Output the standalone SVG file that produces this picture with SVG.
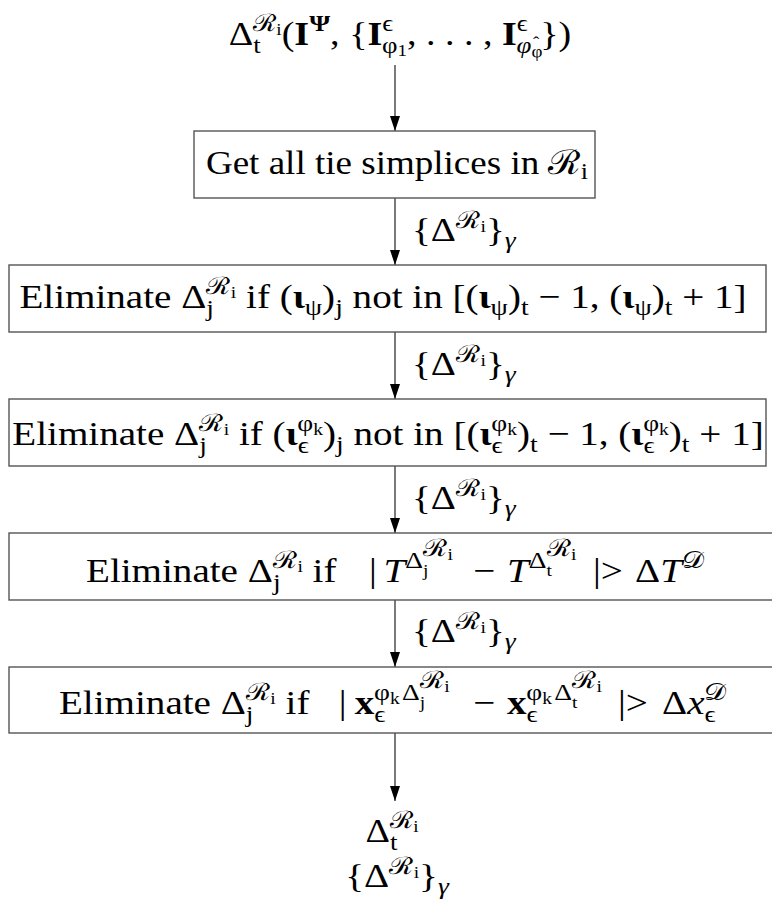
<svg xmlns="http://www.w3.org/2000/svg" width="772" height="904" viewBox="0 0 772 904">
<defs>
<marker id="ah" markerWidth="15" markerHeight="10" refX="15" refY="5" orient="auto" markerUnits="userSpaceOnUse" viewBox="0 0 15 10">
<path d="M0,0 L15,5 L0,10 Z" fill="#000"/>
</marker>
<style>
.t{font-family:"Liberation Serif","Times New Roman",serif;font-size:34px;fill:#000}
.s{font-size:24px}
.ss{font-size:17px}
.sss{font-size:13px}
.b{font-weight:bold}
.i{font-style:italic}
.box{fill:#fff;stroke:#555;stroke-width:1.4}
.c{stroke:#333;stroke-width:1.3;fill:none}
</style>
</defs>
<rect width="772" height="904" fill="#fff"/>
<g id="connectors">
<line class="c" x1="395" y1="65" x2="395" y2="131" marker-end="url(#ah)"/>
<line class="c" x1="395" y1="198" x2="395" y2="265" marker-end="url(#ah)"/>
<line class="c" x1="395" y1="332" x2="395" y2="399" marker-end="url(#ah)"/>
<line class="c" x1="395" y1="466" x2="395" y2="533" marker-end="url(#ah)"/>
<line class="c" x1="395" y1="600" x2="395" y2="667" marker-end="url(#ah)"/>
<line class="c" x1="395" y1="733" x2="395" y2="801" marker-end="url(#ah)"/>
<g transform="translate(412,0) scale(1.15,1)"><text class="t" x="0" y="241">{Δ<tspan class="s" dy="-13">ℛ</tspan><tspan class="ss" dy="4">i</tspan><tspan dy="9">}</tspan><tspan class="s i" dy="7">γ</tspan></text></g>
<g transform="translate(412,0) scale(1.15,1)"><text class="t" x="0" y="375">{Δ<tspan class="s" dy="-13">ℛ</tspan><tspan class="ss" dy="4">i</tspan><tspan dy="9">}</tspan><tspan class="s i" dy="7">γ</tspan></text></g>
<g transform="translate(412,0) scale(1.15,1)"><text class="t" x="0" y="509">{Δ<tspan class="s" dy="-13">ℛ</tspan><tspan class="ss" dy="4">i</tspan><tspan dy="9">}</tspan><tspan class="s i" dy="7">γ</tspan></text></g>
<g transform="translate(412,0) scale(1.15,1)"><text class="t" x="0" y="642">{Δ<tspan class="s" dy="-13">ℛ</tspan><tspan class="ss" dy="4">i</tspan><tspan dy="9">}</tspan><tspan class="s i" dy="7">γ</tspan></text></g>
</g>
<g id="input" transform="translate(400,0) scale(1.12,1)">
<text class="t" x="0" y="45" text-anchor="middle">Δ<tspan class="s" dy="8">t</tspan><tspan class="s" dx="-6.7" dy="-22">ℛ</tspan><tspan class="ss" dy="4">i</tspan><tspan dy="10">(</tspan><tspan class="b">I</tspan><tspan class="s b" dy="-14">Ψ</tspan><tspan dy="14">, {</tspan><tspan class="b">I</tspan><tspan class="s" dy="-14">ϵ</tspan><tspan class="s" dx="-10" dy="22">φ</tspan><tspan class="ss" dy="3">1</tspan><tspan dy="-11">, . . . , </tspan><tspan class="b">I</tspan><tspan class="s" dy="-14">ϵ</tspan><tspan class="s i" dx="-10" dy="22">φ</tspan><tspan class="ss" dy="4">φ</tspan><tspan class="ss" dx="-8.5" dy="-9">ˆ</tspan><tspan dx="1" dy="-3">})</tspan></text>
</g>
<g id="box1">
<rect class="box" x="194" y="131" width="401" height="67"/>
<g transform="translate(397,0) scale(1.09,1)"><text class="t" x="0" y="174" text-anchor="middle">Get all tie simplices in ℛ<tspan class="s" dy="5">i</tspan></text></g>
</g>
<g id="box2">
<rect class="box" x="9" y="265" width="757" height="67"/>
<g transform="translate(383,0) scale(1.15,1)"><text class="t" x="0" y="308" text-anchor="middle">Eliminate Δ<tspan class="s" dy="8">j</tspan><tspan class="s" dx="-6.7" dy="-22">ℛ</tspan><tspan class="ss" dy="4">i</tspan><tspan dy="10"> if (</tspan><tspan class="b">ι</tspan><tspan class="s" dy="7">ψ</tspan><tspan dy="-7">)</tspan><tspan class="s" dy="7">j</tspan><tspan dy="-7"> not in [(</tspan><tspan class="b">ι</tspan><tspan class="s" dy="7">ψ</tspan><tspan dy="-7">)</tspan><tspan class="s" dy="7">t</tspan><tspan dy="-7"> − 1, (</tspan><tspan class="b">ι</tspan><tspan class="s" dy="7">ψ</tspan><tspan dy="-7">)</tspan><tspan class="s" dy="7">t</tspan><tspan dy="-7"> + 1]</tspan></text></g>
</g>
<g id="box3">
<rect class="box" x="9" y="399" width="757" height="67"/>
<g transform="translate(388,0) scale(1.15,1)"><text class="t" x="0" y="445" text-anchor="middle">Eliminate Δ<tspan class="s" dy="8">j</tspan><tspan class="s" dx="-6.7" dy="-22">ℛ</tspan><tspan class="ss" dy="4">i</tspan><tspan dy="10"> if (</tspan><tspan class="b">ι</tspan><tspan class="s" dy="8">ϵ</tspan><tspan class="s" dx="-10" dy="-22">φ</tspan><tspan class="ss" dy="4">k</tspan><tspan dy="10">)</tspan><tspan class="s" dy="7">j</tspan><tspan dy="-7"> not in [(</tspan><tspan class="b">ι</tspan><tspan class="s" dy="8">ϵ</tspan><tspan class="s" dx="-10" dy="-22">φ</tspan><tspan class="ss" dy="4">k</tspan><tspan dy="10">)</tspan><tspan class="s" dy="7">t</tspan><tspan dy="-7"> − 1, (</tspan><tspan class="b">ι</tspan><tspan class="s" dy="8">ϵ</tspan><tspan class="s" dx="-10" dy="-22">φ</tspan><tspan class="ss" dy="4">k</tspan><tspan dy="10">)</tspan><tspan class="s" dy="7">t</tspan><tspan dy="-7"> + 1]</tspan></text></g>
</g>
<g id="box4">
<rect class="box" x="9" y="533" width="790" height="67"/>
<g transform="scale(1.15,1)"><text class="t" x="74.8" y="582">Eliminate Δ<tspan class="s" dy="8">j</tspan><tspan class="s" dx="-6.7" dy="-22">ℛ</tspan><tspan class="ss" dy="4">i</tspan><tspan dy="10"> if</tspan><tspan x="320.9">|</tspan><tspan x="333.5" class="i">T</tspan><tspan class="s" dy="-14">Δ</tspan><tspan class="ss" dy="8">j</tspan><tspan class="s" dx="-4.7" dy="-20">ℛ</tspan><tspan class="ss" dy="4">i</tspan><tspan x="411.3" dy="22">−</tspan><tspan x="440.9" class="i">T</tspan><tspan class="s" dy="-14">Δ</tspan><tspan class="ss" dy="8">t</tspan><tspan class="s" dx="-4.7" dy="-20">ℛ</tspan><tspan class="ss" dy="4">i</tspan><tspan x="515.7" dy="22">|&gt;</tspan><tspan x="552.2">Δ</tspan><tspan class="i">T</tspan><tspan class="s" dy="-14">𝒟</tspan></text></g>
</g>
<g id="box5">
<rect class="box" x="9" y="667" width="790" height="66"/>
<g transform="scale(1.15,1)"><text class="t" x="51.3" y="714">Eliminate Δ<tspan class="s" dy="8">j</tspan><tspan class="s" dx="-6.7" dy="-22">ℛ</tspan><tspan class="ss" dy="4">i</tspan><tspan dy="10"> if</tspan><tspan x="294.5">|</tspan><tspan x="308.5" class="b">x</tspan><tspan class="s" dy="8">ϵ</tspan><tspan class="s" dx="-10" dy="-22">φ</tspan><tspan class="ss" dy="4">k</tspan><tspan class="s" dx="2" dy="-4">Δ</tspan><tspan class="ss" dy="8">j</tspan><tspan class="s" dx="-4.7" dy="-20">ℛ</tspan><tspan class="ss" dy="4">i</tspan><tspan x="411.3" dy="22">−</tspan><tspan x="440.9" class="b">x</tspan><tspan class="s" dy="8">ϵ</tspan><tspan class="s" dx="-10" dy="-22">φ</tspan><tspan class="ss" dy="4">k</tspan><tspan class="s" dx="2" dy="-4">Δ</tspan><tspan class="ss" dy="8">t</tspan><tspan class="s" dx="-4.7" dy="-20">ℛ</tspan><tspan class="ss" dy="4">i</tspan><tspan x="537.4" dy="22">|&gt;</tspan><tspan x="575.7">Δ</tspan><tspan class="i">x</tspan><tspan class="s" dy="8">ϵ</tspan><tspan class="s" dx="-10" dy="-22">𝒟</tspan></text></g>
</g>
<g id="output">
<g transform="translate(392,0) scale(1.12,1)"><text class="t" x="0" y="842" text-anchor="middle">Δ<tspan class="s" dy="8">t</tspan><tspan class="s" dx="-6.7" dy="-22">ℛ</tspan><tspan class="ss" dy="4">i</tspan></text></g>
<g transform="translate(397,0) scale(1.15,1)"><text class="t" x="0" y="887" text-anchor="middle">{Δ<tspan class="s" dy="-13">ℛ</tspan><tspan class="ss" dy="4">i</tspan><tspan dy="9">}</tspan><tspan class="s i" dy="7">γ</tspan></text></g>
</g>
</svg>
